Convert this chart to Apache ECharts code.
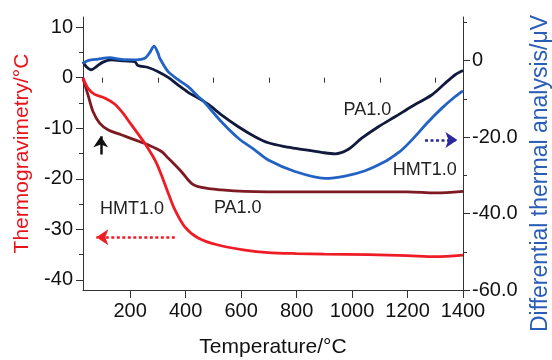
<!DOCTYPE html>
<html><head><meta charset="utf-8">
<script src="https://cdn.jsdelivr.net/npm/echarts@6/dist/echarts.min.js"></script>
<style>html,body{margin:0;padding:0;background:#fff}#c{width:552px;height:360px}</style>
</head><body><div id="c"></div>
<script>
// ---- Data ----
// Thermogravimetry HMT1.0 (left axis)
const tgHmtT = [30, 48, 72, 108, 144, 174, 204, 235, 258, 277, 295, 313, 337, 361, 397, 445, 517, 614, 698, 800, 900, 1059, 1200, 1300, 1400];
const tgHmtV = [0, -2.1, -3.3, -4.0, -5.2, -7.0, -9.3, -11.6, -13.4, -15.1, -16.9, -19.3, -22.8, -26.1, -29.5, -31.7, -33.1, -34.1, -34.6, -34.8, -34.9, -35.0, -35.2, -35.4, -35.1];
// Thermogravimetry PA1.0 (left axis)
const tgPaT = [30, 48, 66, 90, 120, 168, 217, 265, 313, 337, 385, 421, 457, 529, 614, 800, 1000, 1200, 1300, 1400];
const tgPaV = [-0.2, -3.4, -6.7, -9.0, -10.3, -11.3, -12.3, -13.3, -14.6, -15.9, -18.6, -20.9, -21.7, -22.2, -22.5, -22.6, -22.6, -22.6, -22.8, -22.5];
// Differential thermal analysis PA1.0 (right axis)
const dtaPaT = [30, 42, 60, 78, 102, 132, 180, 217, 228, 265, 301, 337, 373, 409, 445, 481, 529, 590, 650, 698, 758, 818, 890, 939, 987, 1035, 1095, 1155, 1215, 1287, 1336, 1372, 1400];
const dtaPaV = [-0.3, -1.6, -2.4, -1.6, -0.4, 0.2, -0.1, -0.3, -1.3, -1.8, -2.9, -4.4, -6.4, -8.3, -9.8, -11.4, -14.2, -17.3, -19.9, -21.5, -22.5, -23.2, -24.0, -24.4, -23.2, -20.3, -17.3, -14.7, -12.0, -9.0, -5.9, -3.7, -2.6];
// Differential thermal analysis HMT1.0 (right axis)
const dtaHmtT = [30, 48, 84, 126, 168, 222, 253, 270, 286, 300, 307, 337, 373, 409, 445, 463, 529, 590, 650, 698, 794, 902, 975, 1047, 1119, 1155, 1179, 1215, 1275, 1323, 1372, 1400];
const dtaHmtV = [-0.7, 0, 0.4, 0.8, 0.3, 0.2, 0.6, 2.0, 3.8, 2.0, 0.6, -2.9, -5.0, -6.8, -9.4, -10.5, -16.0, -20.3, -23.4, -26.0, -29.0, -30.8, -30.2, -28.8, -26.4, -24.7, -23.4, -20.8, -16.0, -12.5, -9.4, -7.9];

// Tick labels
const xMajorTicks = [200, 400, 600, 800, 1000, 1200, 1400];
const xMinorTicks = [100, 300, 500, 700, 900, 1100, 1300];
const tgMajorTicks = [-40, -30, -20, -10, 0, 10];
const tgMinorTicks = [-35, -25, -15, -5, 5];
const dtaMajorTicks = [-60, -40, -20, 0];
const dtaMinorTicks = [-50, -30, -10, 10];

const pairs = (t, v) => t.map((x, i) => [x, v[i]]);
const FONT = 'Arial, "Liberation Sans", sans-serif';
const AXC = '#333';

const chart = echarts.init(document.getElementById('c'), null, {renderer: 'canvas'});

function minorAxis(base, ticks, len) {
  return Object.assign({
    type: 'value', axisLine: {show: false}, splitLine: {show: false},
    axisLabel: {show: false},
    axisTick: {show: true, length: len, customValues: ticks, lineStyle: {color: AXC, width: 1}}
  }, base);
}

const option = {
  animation: false,
  backgroundColor: '#fff',
  grid: {left: 83, right: 89, top: 17, bottom: 70, containLabel: false, outerBoundsMode: 'none'},
  xAxis: [
    {
      type: 'value', min: 30, max: 1400, position: 'bottom',
      name: 'Temperature/°C', nameLocation: 'middle', nameGap: 47,
      nameTextStyle: {color: '#111', fontSize: 21, fontFamily: FONT},
      axisLine: {show: true, onZero: false, lineStyle: {color: AXC, width: 1}},
      axisTick: {show: true, length: 8, customValues: xMajorTicks, lineStyle: {color: AXC}},
      axisLabel: {customValues: xMajorTicks, color: '#111', fontSize: 20, fontFamily: FONT, margin: 11,
        formatter: v => String(v)},
      splitLine: {show: false}
    },
    minorAxis({min: 30, max: 1400, position: 'bottom'}, xMinorTicks, 5)
  ],
  yAxis: [
    {
      type: 'value', min: -42, max: 12, position: 'left',
      name: 'Thermogravimetry/°C', nameLocation: 'middle', nameGap: 50, nameRotate: 90,
      nameTextStyle: {color: '#e8141c', fontSize: 21, fontFamily: FONT},
      axisLine: {show: true, onZero: false, lineStyle: {color: AXC, width: 1}},
      axisTick: {show: true, length: 7, customValues: tgMajorTicks, lineStyle: {color: AXC}},
      axisLabel: {customValues: tgMajorTicks, color: '#111', fontSize: 20, fontFamily: FONT, margin: 10,
        formatter: v => String(v)},
      splitLine: {show: false}
    },
    {
      type: 'value', min: -60, max: 11.4, position: 'right',
      name: 'Differential thermal analysis/μV', nameLocation: 'middle', nameGap: 66, nameRotate: 90,
      nameTextStyle: {color: '#2a5db8', fontSize: 23, fontFamily: FONT, padding: [0, 40, 0, 0]},
      axisLine: {show: true, onZero: false, lineStyle: {color: AXC, width: 1}},
      axisTick: {show: true, length: 7, customValues: dtaMajorTicks, lineStyle: {color: AXC}},
      axisLabel: {customValues: dtaMajorTicks, color: '#111', fontSize: 20, fontFamily: FONT, margin: 9,
        formatter: v => v === 0 ? '0' : v.toFixed(1)},
      splitLine: {show: false}
    },
    minorAxis({min: -42, max: 12, position: 'left'}, tgMinorTicks, 4),
    minorAxis({min: -60, max: 11.4, position: 'right'}, dtaMinorTicks, 4)
  ],
  series: [
    {
      name: 'TG PA1.0', type: 'line', xAxisIndex: 0, yAxisIndex: 0,
      data: pairs(tgPaT, tgPaV), showSymbol: false, smooth: 0.3,
      lineStyle: {color: '#7d1a22', width: 2.8}, itemStyle: {color: '#7d1a22'}, z: 2,
      markLine: {
        silent: true, symbol: ['none', 'arrow'], symbolSize: 11, label: {show: false},
        lineStyle: {color: '#111', type: 'solid', width: 2.5},
        data: [[{coord: [94, -15.2]}, {coord: [94, -11.6]}]]
      }
    },
    {
      name: 'TG HMT1.0', type: 'line', xAxisIndex: 0, yAxisIndex: 0,
      data: pairs(tgHmtT, tgHmtV), showSymbol: false, smooth: 0.3,
      lineStyle: {color: '#ee1c25', width: 2.8}, itemStyle: {color: '#ee1c25'}, z: 3,
      markLine: {
        silent: true, symbol: ['none', 'arrow'], symbolSize: 12, label: {show: false},
        lineStyle: {color: '#ee1c25', type: [3, 2.5], width: 2.5},
        data: [[{coord: [361, -31.55]}, {coord: [78, -31.55]}]]
      }
    },
    {
      name: 'DTA PA1.0', type: 'line', xAxisIndex: 0, yAxisIndex: 1,
      data: pairs(dtaPaT, dtaPaV), showSymbol: false, smooth: 0.3,
      lineStyle: {color: '#111a3c', width: 2.8}, itemStyle: {color: '#111a3c'}, z: 2,
      markLine: {
        silent: true, symbol: ['none', 'arrow'], symbolSize: 12, label: {show: false},
        lineStyle: {color: '#2a2a9c', type: [3, 2.5], width: 2.5},
        data: [[{coord: [1263, -20.8]}, {coord: [1380, -20.8]}]]
      }
    },
    {
      name: 'DTA HMT1.0', type: 'line', xAxisIndex: 0, yAxisIndex: 1,
      data: pairs(dtaHmtT, dtaHmtV), showSymbol: false, smooth: 0.3,
      lineStyle: {color: '#2262c4', width: 2.8}, itemStyle: {color: '#2262c4'}, z: 3
    }
  ]
};
chart.setOption(option);

// Text annotations placed in data coordinates
const notes = [
  {text: 'PA1.0', at: [1055, -12.9], axis: 1},
  {text: 'HMT1.0', at: [1262, -28.6], axis: 1},
  {text: 'HMT1.0', at: [207, -26.0], axis: 0},
  {text: 'PA1.0', at: [588, -25.7], axis: 0}
];
chart.setOption({
  graphic: notes.map(n => {
    const p = chart.convertToPixel({xAxisIndex: 0, yAxisIndex: n.axis}, n.at);
    return {type: 'text', x: p[0], y: p[1], silent: true,
      style: {text: n.text, fill: '#222', fontSize: 18, fontFamily: FONT, align: 'center', verticalAlign: 'middle'}};
  })
});
</script></body></html>
